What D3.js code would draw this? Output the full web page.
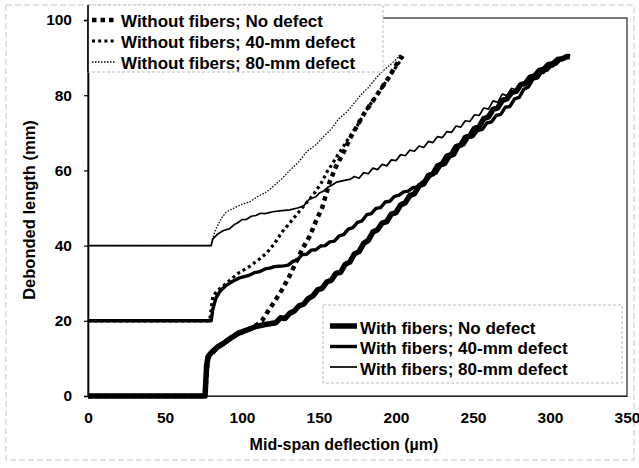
<!DOCTYPE html>
<html>
<head>
<meta charset="utf-8">
<script src="https://cdn.jsdelivr.net/npm/d3@7"></script>
<style>
html,body{margin:0;padding:0;background:#fff;}
text{font-family:"Liberation Sans",Arial,sans-serif;font-weight:bold;fill:#000;}
</style>
</head>
<body>
<svg id="chart" width="639" height="468"></svg>
<script>
// ---- data: [deflection µm, debonded length mm] ----
const xTicks = [0, 50, 100, 150, 200, 250, 300, 350];
const yTicks = [0, 20, 40, 60, 80, 100];

const withNoDefect = [[0,0],[76,0],[76.5,4],[77,8],[78,10.5],[80,11.5],[84,13],[88,14],[93,15.5],[98,16.8],[103,17.5],[109,18.5],[115,19],[122,19.5],
  [125,20.8],[128,20.6],[131,22],[134,22.6],[137,24],[140,24.4],[143,25.9],[146,26.6],[149,28.2],[152,28.6],[155,30.3],[158,30.8],
  [161,32.6],[164,32.9],[167,35],[170,35.6],[173,37.8],[176,38.4],[179,40.6],[182,41.4],[185,43.6],[188,44.2],[191,46],[194,46.4],
  [197,48.4],[200,48.8],[203,50.8],[206,51.4],[209,53.3],[212,53.8],[215,55.9],[218,56.4],[221,58.6],[224,59.1],[227,61.2],[230,61.7],
  [233,63.8],[236,64.2],[239,66.3],[242,66.7],[245,68.8],[248,69.2],[251,71.2],[254,71.6],[257,73.8],[260,74.2],[263,76.2],[266,76.6],
  [269,78.6],[272,79],[275,80.7],[278,81],[281,82.8],[284,83.1],[287,84.8],[290,85.1],[293,86.6],[296,86.9],[299,88.2],[302,88.4],
  [305,89.5],[308,89.7],[311,90.3],[313,90.2]];

const with40 = [[0,20],[80,20],[81,23],[83,26],[86,28],[90,29.5],[94,30.5],[99,31.5],[104,32],[108,32.8],[111,33],[115,33.8],[118,34],[121,34.4],[124,34.5],
  [127,34.6],[130,34.8],[133,35.8],[136,36.2],[139,37.6],[142,37.7],[145,38.8],[148,38.9],[151,39.9],[154,40],[157,41],[160,41.2],
  [163,42.6],[166,42.9],[169,44.4],[172,44.8],[175,46.2],[178,46.6],[181,48.2],[184,48.5],[187,49.9],[190,50.1],[193,51.6],[196,51.8],
  [199,53.1],[202,53.4],[205,54.3],[208,54.5],[211,55.4],[214,55.6],[217,56.9],[220,57.3],[223,59],[226,59.3],[229,61.2],[232,61.6],
  [235,63.6],[238,64.1],[241,66.5],[244,66.8],[247,68.7],[250,69],[253,70.6],[256,70.9],[259,72.6],[262,72.9],[265,74.6],[268,74.9],
  [271,76.8],[274,77],[277,79],[280,79.4],[283,81.6],[286,82.2],[289,84.3],[292,84.6],[295,86.4],[298,86.6],[301,88],[304,88.3],
  [307,89.6],[310,90.1]];

const with80 = [[0,40],[80,40],[81,41.7],[84,43],[88,44],[92,44.5],[95,45.6],[97,46],[100,46.9],[103,47],[106,47.8],[109,48],[112,48.6],[115,48.5],
  [120,49],[126,49.3],[131,49.5],[136,50],[140,50.5],[142,51.6],[144,52.4],[148,53],[150,53.9],[153,54.5],[156,55.6],[158,56],[161,56.8],
  [163,57],[168,57.5],[170,57.6],[173,58.4],[176,57.9],[179,59.4],[182,59.1],[185,60.6],[188,60.2],[191,61.6],[194,61.2],[197,62.8],
  [200,62.6],[203,64.2],[206,63.9],[209,65.4],[212,65.1],[215,66.5],[218,66.1],[221,67.7],[224,67.4],[227,69],[230,68.7],[233,70.3],
  [236,70.1],[239,71.8],[242,71.5],[245,73.2],[248,73],[251,74.8],[254,74.6],[257,76.6],[260,76.3],[263,78.5],[266,78.1],[269,80.3],
  [272,79.9],[275,81.8],[278,81.4],[281,83.2],[284,82.9],[287,84.6],[290,84.3],[293,86.1],[296,85.8],[299,87.6],[302,87.5],[305,89],
  [308,89.5],[310,90]];

const withoutNoDefect = [[0,0],[76,0],[77,6],[78,10],[84,13],[93,15.5],[103,17.5],[110,19],[113,20],[116,22],[121,25],[126,28.3],[131,32],
  [135,35.5],[139,39],[144,42.5],[148,46.5],[152,50],[157,57],[161,61],[165,64],[170,68.4],[175,72],[180,75.6],[185,78.5],[190,81.5],
  [195,84.5],[200,88],[204,90.5]];

const without40 = [[0,20],[79,20],[80,23],[81,26.5],[84,28],[90,30],[97,32.5],[105,34.5],[110,36],[116,38],[121,40.5],[126,43.6],[131,46],
  [135,48],[140,50.5],[144,52.4],[148,54.5],[152,57],[155,59.5],[159,62],[162,64],[165,65.8],[170,69],[175,72],[180,75.6],[185,78.5],
  [190,81.5],[195,84.5],[200,87.5],[205,90.5]];

const without80 = [[0,40],[80,40],[81,42],[83,44.4],[85,46],[87,47.5],[90,49],[95,50],[100,51],[105,51.6],[110,53],[116,54.3],[121,56],
  [126,57.8],[131,60],[137,62.3],[142,65],[148,66.8],[153,69],[158,71],[163,73.8],[168,75.5],[173,78],[178,80.5],[182,82],[187,84.5],
  [191,86.3],[196,88],[200,89.5],[203,91]];

const labelsWithout = ["Without fibers; No defect", "Without fibers; 40-mm defect", "Without fibers; 80-mm defect"];
const labelsWith = ["With fibers; No defect", "With fibers; 40-mm defect", "With fibers; 80-mm defect"];

// ---- styles ----
const styles = {
  wo0:  {w: 4.5, dash: "4.5,4"},
  wo40: {w: 3.2, dash: "3,3.2"},
  wo80: {w: 1.3, dash: "1.5,1.5"},
  wf0:  {w: 5.5, dash: null},
  wf40: {w: 3.4, dash: null},
  wf80: {w: 1.7, dash: null}
};

const svg = d3.select("#chart");
const x = d3.scaleLinear().domain([0, 350]).range([88, 627]);
const y = d3.scaleLinear().domain([0, 100]).range([396, 20]);

// faint scan border
svg.append("rect").attr("x", 6).attr("y", 5).attr("width", 628).attr("height", 455)
  .attr("fill", "none").attr("stroke", "#c8c8c8").attr("stroke-width", 1).attr("stroke-dasharray", "6,3");

// plot frame
svg.append("rect").attr("x", x(0)).attr("y", 18).attr("width", x(350) - x(0)).attr("height", y(0) - 18)
  .attr("fill", "none").attr("stroke", "#222").attr("stroke-width", 1.2);

// y axis
const yAxis = d3.axisLeft(y).tickValues(yTicks).tickSize(4).tickPadding(12);
const gy = svg.append("g").attr("transform", `translate(${x(0)},0)`).call(yAxis);
gy.select(".domain").attr("stroke", "#000").attr("stroke-width", 1.6);
gy.selectAll(".tick line").attr("stroke", "#000").attr("stroke-width", 1.2);
gy.selectAll(".tick text").style("font-size", "15.5px").style("font-weight", "bold")
  .style("font-family", "'Liberation Sans', Arial, sans-serif").attr("fill", "#000");

// x axis
const xAxis = d3.axisBottom(x).tickValues(xTicks).tickSize(0).tickPadding(16);
const gx = svg.append("g").attr("transform", `translate(0,${y(0)})`).call(xAxis);
gx.select(".domain").attr("stroke", "#222").attr("stroke-width", 1.2);
gx.selectAll(".tick text").style("font-size", "15.5px").style("font-weight", "bold")
  .style("font-family", "'Liberation Sans', Arial, sans-serif").attr("fill", "#000");

// axis titles
svg.append("text").attr("x", 344).attr("y", 450).attr("text-anchor", "middle")
  .style("font-size", "16px").text("Mid-span deflection (µm)");
svg.append("text").attr("transform", "translate(35,210) rotate(-90)").attr("text-anchor", "middle")
  .style("font-size", "16.5px").text("Debonded length (mm)");

// series
const line = d3.line().x(d => x(d[0])).y(d => y(d[1]));
const series = [
  {key: "wf80", d: with80},
  {key: "wf40", d: with40},
  {key: "wf0",  d: withNoDefect},
  {key: "wo80", d: without80},
  {key: "wo40", d: without40},
  {key: "wo0",  d: withoutNoDefect}
];
svg.append("g").selectAll("path").data(series).join("path")
  .attr("d", s => line(s.d))
  .attr("fill", "none").attr("stroke", "#000")
  .attr("stroke-width", s => styles[s.key].w)
  .attr("stroke-dasharray", s => styles[s.key].dash)
  .attr("stroke-linejoin", "round");

// legend 1 (without fibers)
const L1 = svg.append("g");
L1.append("rect").attr("x", 88).attr("y", 5).attr("width", 295).attr("height", 67)
  .attr("fill", "#fff").attr("stroke", "#bbb").attr("stroke-width", 1).attr("stroke-dasharray", "3,2");
svg.append("line").attr("x1", x(0)).attr("x2", x(0)).attr("y1", 5).attr("y2", 72).attr("stroke", "#000").attr("stroke-width", 1.6);
const keys1 = ["wo0", "wo40", "wo80"];
const rows1 = [21, 42, 63];
keys1.forEach((k, i) => {
  L1.append("line").attr("x1", 92).attr("x2", 116).attr("y1", rows1[i] - 1).attr("y2", rows1[i] - 1)
    .attr("stroke", "#000").attr("stroke-width", styles[k].w).attr("stroke-dasharray", styles[k].dash);
  L1.append("text").attr("x", 121).attr("y", rows1[i]).attr("dy", "0.35em")
    .style("font-size", "17px").text(labelsWithout[i]);
});

// legend 2 (with fibers)
const L2 = svg.append("g");
L2.append("rect").attr("x", 323).attr("y", 305).attr("width", 299).attr("height", 78)
  .attr("fill", "#fff").attr("stroke", "#bbb").attr("stroke-width", 1).attr("stroke-dasharray", "3,2");
const keys2 = ["wf0", "wf40", "wf80"];
const rows2 = [328, 348.5, 369];
keys2.forEach((k, i) => {
  L2.append("line").attr("x1", 330).attr("x2", 357).attr("y1", rows2[i] - 2).attr("y2", rows2[i] - 2)
    .attr("stroke", "#000").attr("stroke-width", styles[k].w);
  L2.append("text").attr("x", 360).attr("y", rows2[i]).attr("dy", "0.35em")
    .style("font-size", "17px").text(labelsWith[i]);
});
</script>
</body>
</html>
